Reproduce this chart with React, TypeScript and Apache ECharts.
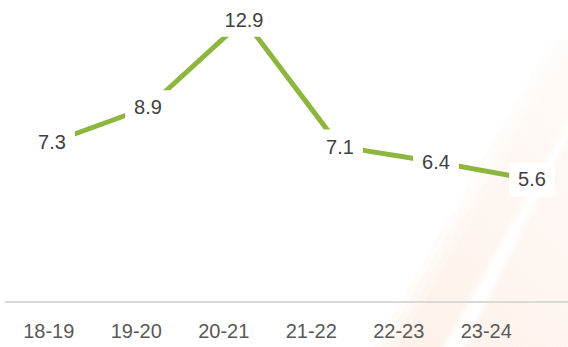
import React, { useEffect, useRef } from "react";
import * as echarts from "echarts";

const categories = ["18-19", "19-20", "20-21", "21-22", "22-23", "23-24"];
const values = [7.3, 8.9, 12.9, 7.1, 6.4, 5.6];

function band(
  b1: number,
  b2: number,
  t1: number,
  t2: number,
  topY: number,
  alpha: number
) {
  return {
    type: "polygon",
    z: -10,
    silent: true,
    shape: {
      points: [
        [b1, 347],
        [b2, 347],
        [t2, topY],
        [t1, topY],
      ],
    },
    style: {
      fill: new echarts.graphic.LinearGradient(0, 1, 1, 0, [
        { offset: 0, color: `rgba(248,190,150,${alpha})` },
        { offset: 1, color: `rgba(248,200,165,${alpha * 0.3})` },
      ]),
    },
  };
}

export default function App() {
  const ref = useRef<HTMLDivElement>(null);
  useEffect(() => {
    document.body.style.margin = "0";
    const chart = echarts.init(ref.current!, null, { renderer: "svg" });
    const bg: any[] = [];
    // soft left band (several layers to emulate blur)
    for (let i = 0; i < 4; i++) {
      const w = i * 8;
      bg.push(band(398 - w, 440 + w * 0.3, 575 - w, 610 + w * 0.3, 40, 0.06));
    }
    // soft right band
    for (let i = 0; i < 4; i++) {
      const w = i * 8;
      bg.push(band(468 - w * 0.3, 600 + w, 600 - w * 0.3, 700 + w, 80, 0.05));
    }
    chart.setOption({
      animation: false,
      backgroundColor: "#ffffff",
      graphic: [
        ...bg,
        {
          type: "line",
          z: 0,
          silent: true,
          shape: { x1: 5, y1: 302, x2: 568, y2: 302 },
          style: { stroke: "#d9d9d9", lineWidth: 2 },
        },
      ],
      grid: [
        { left: 52, right: 36, top: 0, bottom: 45 },
        { left: 5, right: 38, top: 0, bottom: 45 },
      ],
      xAxis: [
        {
          type: "category",
          gridIndex: 0,
          data: categories,
          boundaryGap: false,
          show: false,
        },
        {
          type: "category",
          gridIndex: 1,
          data: categories,
          boundaryGap: true,
          axisLine: { show: false },
          axisTick: { show: false },
          axisLabel: {
            margin: 19,
            fontSize: 20,
            color: "#595959",
            fontFamily: "Liberation Sans, Arial, sans-serif",
          },
        },
      ],
      yAxis: [
        { type: "value", gridIndex: 0, min: 0, max: 13.8, show: false },
        { type: "value", gridIndex: 1, min: 0, max: 13.8, show: false },
      ],
      series: [
        {
          type: "line",
          xAxisIndex: 0,
          yAxisIndex: 0,
          data: values,
          symbol: "circle",
          symbolSize: 0,
          showSymbol: true,
          lineStyle: { color: "#8db63f", width: 5 },
          itemStyle: { color: "#8db63f" },
          label: {
            show: true,
            position: "inside",
            fontSize: 20,
            color: "#404040",
            fontFamily: "Liberation Sans, Arial, sans-serif",
            backgroundColor: "#ffffff",
            padding: [7, 9],
            formatter: (p: any) => p.value.toFixed(1),
          },
        },
      ],
    });
    return () => chart.dispose();
  }, []);
  return <div ref={ref} style={{ width: 568, height: 347, position: "absolute", left: 0, top: 0 }} />;
}
